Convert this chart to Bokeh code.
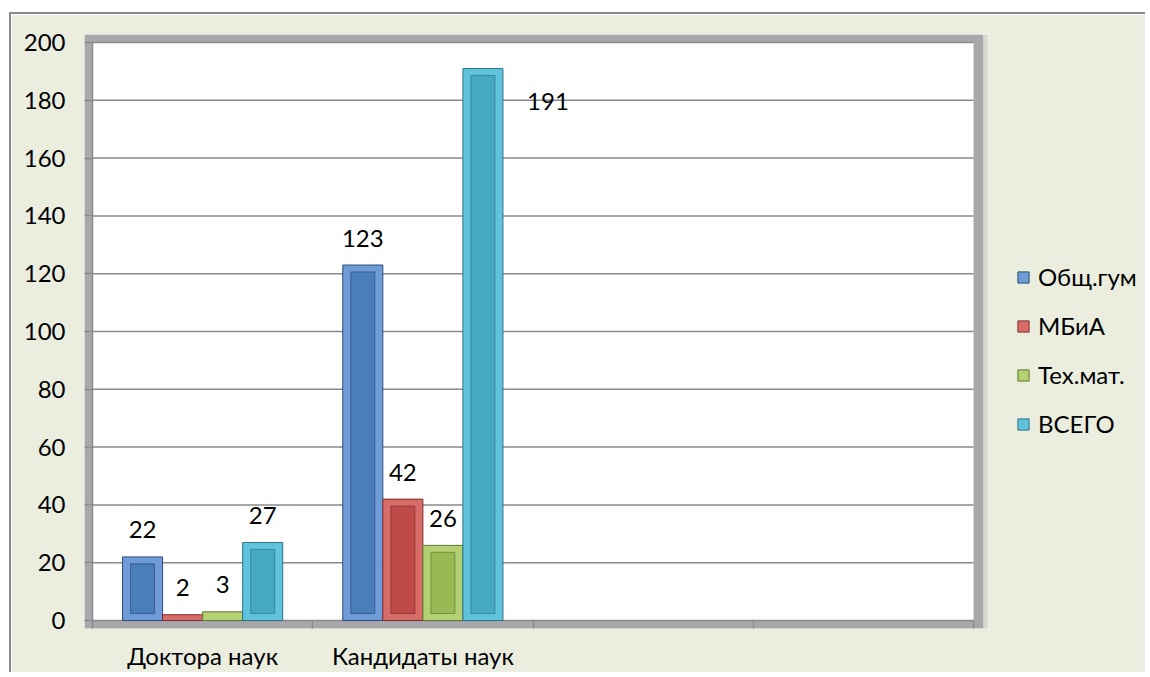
import numpy as np
from bokeh.plotting import figure
from bokeh.models import (ColumnDataSource, Range1d, FixedTicker, Legend, LegendItem, BoxAnnotation)
from bokeh.core.properties import value
from bokeh.embed import file_html
from bokeh.resources import INLINE

# ---- data ----
categories = ["Доктора наук", "Кандидаты наук", "", " "]
series_names = ["Общ.гум", "МБиА", "Тех.мат.", "ВСЕГО"]
obsch_gum = [22, 123]
mbia = [2, 42]
tech_mat = [3, 26]
vsego = [27, 191]
y_ticks = [0, 20, 40, 60, 80, 100, 120, 140, 160, 180, 200]

series_values = [obsch_gum, mbia, tech_mat, vsego]
outer_colors = ["#6f9bd6", "#d86c69", "#b3d173", "#5fc3dc"]
inner_colors = ["#4a7ebb", "#be4b48", "#98b954", "#45a9c4"]
edge_colors = ["#2c4f7c", "#7f2e2c", "#5f7a30", "#2d7489"]

FONT = "Lato"
FS = "24px"
CREAM = "#ebeedf"
GRID = "#8a8a8a"

# page geometry (px)
OX, OY = 11, 14            # canvas origin on the page (after margin + border)
FRAME_L, FRAME_T, FRAME_B = 84, 34, 628
AREA_L, AREA_R, AREA_T, AREA_B = 92, 973, 42, 620
W, H = 1150 - OX - 3, 677 - OY - 3

n_slots = len(categories)
ppu_x = (AREA_R - AREA_L) / n_slots
ymax = y_ticks[-1]
ppu_y = (AREA_B - AREA_T) / ymax
x_start = -(AREA_L - FRAME_L) / ppu_x
x_end = (OX + W - AREA_L) / ppu_x
y_end = ymax + (AREA_T - FRAME_T) / ppu_y
y_start = -(FRAME_B - AREA_B) / ppu_y

p = figure(width=W, height=H, output_backend="svg", toolbar_location=None,
           x_range=Range1d(x_start, x_end), y_range=Range1d(y_start, y_end),
           min_border_left=FRAME_L - OX, min_border_right=0,
           min_border_top=FRAME_T - OY, min_border_bottom=H - (FRAME_B - OY))
p.styles = {"margin-left": "9px", "margin-top": "12px",
            "border-left": "2px solid #8a8a8a", "border-top": "2px solid #8a8a8a"}
p.border_fill_color = CREAM
p.background_fill_color = CREAM
p.outline_line_color = None

# plot-area shadow and white wall
px8 = 8 / ppu_x
p.add_layout(BoxAnnotation(left=x_start, right=n_slots + 14 / ppu_x, bottom=y_start - 6 / ppu_y, top=y_end,
                           fill_color="#a5a4aa", fill_alpha=0.3, line_color=None, level="underlay"))
p.add_layout(BoxAnnotation(left=x_start, right=n_slots + px8 * 1.2, bottom=y_start, top=y_end,
                           fill_color="#a3a2a8", fill_alpha=0.9, line_color=None, level="underlay"))
p.add_layout(BoxAnnotation(left=0, right=n_slots, bottom=0, top=ymax,
                           fill_color="white", fill_alpha=1, line_color=None, level="underlay"))

# horizontal gridlines across the plot area only
p.xgrid.grid_line_color = None
p.ygrid.grid_line_color = None
p.segment(x0=0, x1=n_slots, y0=y_ticks, y1=y_ticks, line_color=GRID, line_width=1.5)
# y axis line at the left of the plot area
p.segment(x0=[0], x1=[0], y0=[y_ticks[0]], y1=[y_ticks[-1]], line_color=GRID, line_width=1.5)

bar_w = 40 / 220.0
n_cat = len(obsch_gum)
centers = np.arange(n_cat) + 0.5

renderers = []
label_x, label_y, label_t = [], [], []
for j, vals in enumerate(series_values):
    v = np.array(vals, dtype=float)
    xs = centers + (j - 1.5) * bar_w
    src = ColumnDataSource(dict(x=xs, top=v))
    r = p.vbar(x="x", top="top", bottom=0, width=bar_w, source=src,
               fill_color=outer_colors[j], line_color=edge_colors[j], line_width=1)
    renderers.append(r)
    mask = v > 6
    inner = ColumnDataSource(dict(x=xs[mask], top=v[mask] - 2.4, bottom=np.full(mask.sum(), 2.4)))
    p.vbar(x="x", top="top", bottom="bottom", width=bar_w * 0.6, source=inner,
           fill_color=inner_colors[j], line_color=edge_colors[j], line_width=1, line_alpha=0.7)
    label_x.extend(xs.tolist())
    label_y.extend(v.tolist())
    label_t.extend([str(int(a)) for a in vals])

# label offsets (px): default above the bar; the tallest label sits to the right
dx = [0] * len(label_x)
dy = [-27] * len(label_x)
dx[-1] = 65
dy[-1] = 33
lsrc = ColumnDataSource(dict(x=label_x, y=label_y, t=label_t, dx=dx, dy=dy))
p.text(x="x", y="y", text="t", source=lsrc, x_offset="dx", y_offset="dy",
       text_align="center", text_baseline="middle",
       text_font=value(FONT), text_font_size=FS, text_color="black")

# y axis (ticks drawn inward from the frame edge up to the plot area)
p.yaxis.ticker = FixedTicker(ticks=y_ticks)
p.yaxis.bounds = (0, ymax)
p.yaxis.axis_line_color = None
p.yaxis.major_tick_line_color = GRID
p.yaxis.major_tick_line_width = 1.5
p.yaxis.major_tick_out = 0
p.yaxis.major_tick_in = AREA_L - FRAME_L
p.yaxis.minor_tick_line_color = None
p.yaxis.major_label_standoff = 19
p.yaxis.major_label_text_font = FONT
p.yaxis.major_label_text_font_size = FS
p.yaxis.major_label_text_color = "black"

# x axis: labels at category centers, boundary ticks below the plot area
cat_centers = [i + 0.5 for i in range(n_slots)]
p.xaxis.ticker = FixedTicker(ticks=cat_centers, minor_ticks=list(range(n_slots + 1)))
p.xaxis.bounds = (0, n_slots)
p.xaxis.major_label_overrides = {c: lab for c, lab in zip(cat_centers, categories)}
p.xaxis.axis_line_color = None
p.xaxis.major_tick_line_color = None
p.xaxis.major_tick_out = 0
p.xaxis.major_tick_in = 0
p.xaxis.minor_tick_line_color = GRID
p.xaxis.minor_tick_line_width = 1.5
p.xaxis.minor_tick_out = 0
p.xaxis.minor_tick_in = FRAME_B - AREA_B
p.xaxis.major_label_standoff = 12
p.xaxis.major_label_text_font = FONT
p.xaxis.major_label_text_font_size = FS
p.xaxis.major_label_text_color = "black"

legend = Legend(items=[LegendItem(label=n, renderers=[r]) for n, r in zip(series_names, renderers)],
                location=(1016 - FRAME_L, FRAME_B - 438), orientation="vertical")
legend.margin = 0
legend.padding = 0
legend.spacing = 20
legend.label_height = 24
legend.glyph_width = 14
legend.glyph_height = 14
legend.label_standoff = 8
legend.label_text_font = FONT
legend.label_text_font_size = FS
legend.label_text_color = "black"
legend.background_fill_alpha = 0
legend.border_line_alpha = 0
p.add_layout(legend, "center")

open("out.html", "w").write(file_html(p, INLINE))
